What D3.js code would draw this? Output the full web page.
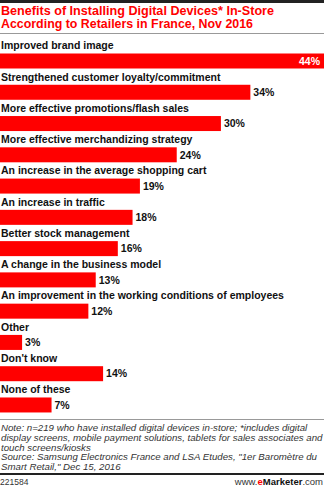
<!DOCTYPE html>
<html>
<head>
<meta charset="utf-8">
<script src="https://cdnjs.cloudflare.com/ajax/libs/d3/7.8.5/d3.min.js"></script>
<style>
  html, body { margin: 0; padding: 0; background: #fff; }
  svg { display: block; }
</style>
</head>
<body>
<svg id="chart" width="324" height="487"></svg>
<script>
// Survey responses, % of retailers
const categories = [
  "Improved brand image",
  "Strengthened customer loyalty/commitment",
  "More effective promotions/flash sales",
  "More effective merchandizing strategy",
  "An increase in the average shopping cart",
  "An increase in traffic",
  "Better stock management",
  "A change in the business model",
  "An improvement in the working conditions of employees",
  "Other",
  "Don't know",
  "None of these"
];
const values = [44, 34, 30, 24, 19, 18, 16, 13, 12, 3, 14, 7];

const titleLines = [
  "Benefits of Installing Digital Devices* In-Store",
  "According to Retailers in France, Nov 2016"
];
const noteLines = [
  "Note: n=219 who have installed digital devices in-store; *includes digital",
  "display screens, mobile payment solutions, tablets for sales associates and",
  "touch screens/kiosks",
  "Source: Samsung Electronics France and LSA Etudes, \"1er Baromètre du",
  "Smart Retail,\" Dec 15, 2016"
];
const chartId = "221584";

const W = 324, H = 487;
const svg = d3.select("#chart");
const RED = "#ff0000";
const font = "'Liberation Sans', Arial, sans-serif";

// top rule
svg.append("rect").attr("x", 0).attr("y", 0).attr("width", W).attr("height", 3).attr("fill", "#222");

// title, set in a slightly condensed bold face
const title = svg.append("text")
  .attr("fill", RED)
  .attr("font-family", font)
  .attr("font-weight", "bold")
  .attr("font-size", 12.5);
const titleWidths = [273, 252];
title.selectAll("tspan").data(titleLines).join("tspan")
  .attr("x", 1)
  .attr("y", (d, i) => 15 + i * 13)
  .attr("textLength", (d, i) => titleWidths[i])
  .attr("lengthAdjust", "spacingAndGlyphs")
  .text(d => d);

svg.append("rect").attr("x", 0).attr("y", 33).attr("width", W).attr("height", 1).attr("fill", "#999");

// scales
const x = d3.scaleLinear().domain([0, 44]).range([0, 324]);
const y = d3.scaleBand().domain(categories).range([37, 37 + 31.27 * categories.length]);

const rows = svg.append("g").selectAll("g").data(categories).join("g")
  .attr("transform", d => `translate(0,${y(d)})`);

rows.append("text")
  .attr("x", 1)
  .attr("y", 12.3)
  .attr("fill", "#111")
  .attr("font-family", font)
  .attr("font-weight", "bold")
  .attr("font-size", 10.5)
  .text(d => d);

rows.append("rect")
  .attr("x", 0)
  .attr("y", 16.5)
  .attr("width", (d, i) => x(values[i]))
  .attr("height", 15)
  .attr("fill", RED);

rows.append("text")
  .attr("x", (d, i) => i === 0 ? x(values[i]) - 4 : x(values[i]) + 3)
  .attr("y", 27.8)
  .attr("text-anchor", (d, i) => i === 0 ? "end" : "start")
  .attr("fill", (d, i) => i === 0 ? "#fff" : "#111")
  .attr("font-family", font)
  .attr("font-weight", "bold")
  .attr("font-size", 10.5)
  .text((d, i) => values[i] + "%");

// footer
svg.append("rect").attr("x", 0).attr("y", 419).attr("width", W).attr("height", 1).attr("fill", "#999");

const notes = svg.append("text")
  .attr("fill", "#333")
  .attr("font-family", font)
  .attr("font-style", "italic")
  .attr("font-size", 10);
notes.selectAll("tspan").data(noteLines).join("tspan")
  .attr("x", 1)
  .attr("y", (d, i) => 431 + i * 9.8)
  .text(d => d);

// shrink the note so its widest line fits the chart width
const widest = d3.max(notes.selectAll("tspan").nodes(), n => n.getComputedTextLength());
if (widest > W - 2) notes.attr("font-size", 10 * (W - 2) / widest);

svg.append("rect").attr("x", 0).attr("y", 473).attr("width", W).attr("height", 2).attr("fill", "#222");

svg.append("text")
  .attr("x", 0).attr("y", 485)
  .attr("fill", "#333")
  .attr("font-family", font)
  .attr("font-size", 8.5)
  .text(chartId);

const brand = svg.append("text")
  .attr("x", 323).attr("y", 485)
  .attr("text-anchor", "end")
  .attr("fill", "#333")
  .attr("font-family", font)
  .attr("font-size", 9.5);
brand.append("tspan").text("www.");
brand.append("tspan").attr("fill", RED).attr("font-weight", "bold").text("e");
brand.append("tspan").attr("fill", "#111").attr("font-weight", "bold").text("Marketer");
brand.append("tspan").text(".com");
</script>
</body>
</html>
